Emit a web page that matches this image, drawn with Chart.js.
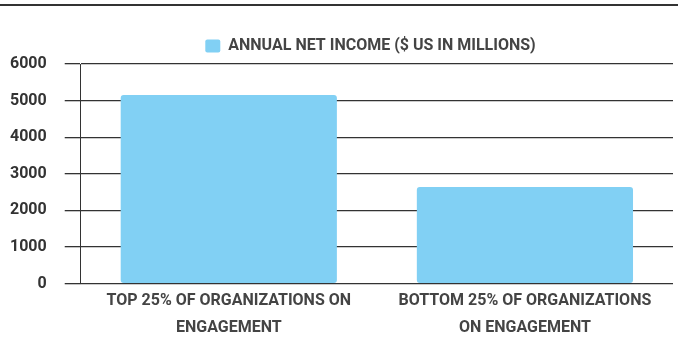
<!DOCTYPE html>
<html>
<head>
<meta charset="utf-8">
<script src="https://cdn.jsdelivr.net/npm/chart.js@4"></script>
<style>
  body { margin: 0; background: #fff; }
  #wrap { position: relative; width: 678px; height: 338px; overflow: hidden; }
  #rule { position: absolute; left: 0; top: 4px; width: 678px; height: 2px; background: #333; }
</style>
</head>
<body>
<div id="wrap">
  <div id="rule"></div>
  <canvas id="myChart1" width="678" height="338"></canvas>
</div>
<script>
const categories = [
    ['TOP 25% OF ORGANIZATIONS ON', 'ENGAGEMENT'],
    ['BOTTOM 25% OF ORGANIZATIONS', 'ON ENGAGEMENT']
];
const netIncome = [5150, 2640];
const seriesLabel = 'ANNUAL NET INCOME ($ US IN MILLIONS)';
const yTicks = [0, 1000, 2000, 3000, 4000, 5000, 6000];

const fontFamily = "Roboto, sans-serif";

// nudge the legend to the right, it sits over the plot area not the canvas
const legendShift = {
    id: 'legendShift',
    afterLayout(chart) {
        chart.legend.left += 38;
        chart.legend.right += 38;
    }
};

const ctx = document.getElementById('myChart1').getContext('2d');
const chart1 = new Chart(ctx, {
    type: 'bar',
    data: {
        labels: categories,
        datasets: [{
            label: seriesLabel,
            data: netIncome,
            backgroundColor: '#81d0f4',
            borderRadius: 3,
            borderSkipped: false,
            barPercentage: 0.73,
            categoryPercentage: 1
        }]
    },
    options: {
        responsive: false,
        animation: false,
        layout: {
            padding: { top: 24, right: 5, left: -8, bottom: 0 }
        },
        plugins: {
            tooltip: { enabled: false },
            legend: {
                labels: {
                    boxWidth: 15,
                    boxHeight: 13,
                    useBorderRadius: true,
                    borderRadius: 2,
                    color: '#444',
                    padding: 14,
                    font: { family: fontFamily, size: 16, weight: 'bold' }
                }
            }
        },
        scales: {
            x: {
                grid: { display: false },
                border: { display: false },
                ticks: {
                    color: '#444',
                    maxRotation: 0,
                    padding: -4,
                    font: { family: fontFamily, size: 16, weight: 'bold', lineHeight: 1.7 }
                }
            },
            y: {
                min: 0,
                max: 6000,
                afterBuildTicks: axis => { axis.ticks = yTicks.map(v => ({ value: v })); },
                grid: {
                    color: '#333',
                    lineWidth: 1.3,
                    tickLength: 16
                },
                border: { display: true, color: '#333', width: 1 },
                ticks: {
                    color: '#333',
                    padding: 18,
                    callback: v => String(v),
                    font: { family: fontFamily, size: 16, weight: 'bold' }
                }
            }
        }
    },
    plugins: [legendShift]
});
</script>
</body>
</html>
